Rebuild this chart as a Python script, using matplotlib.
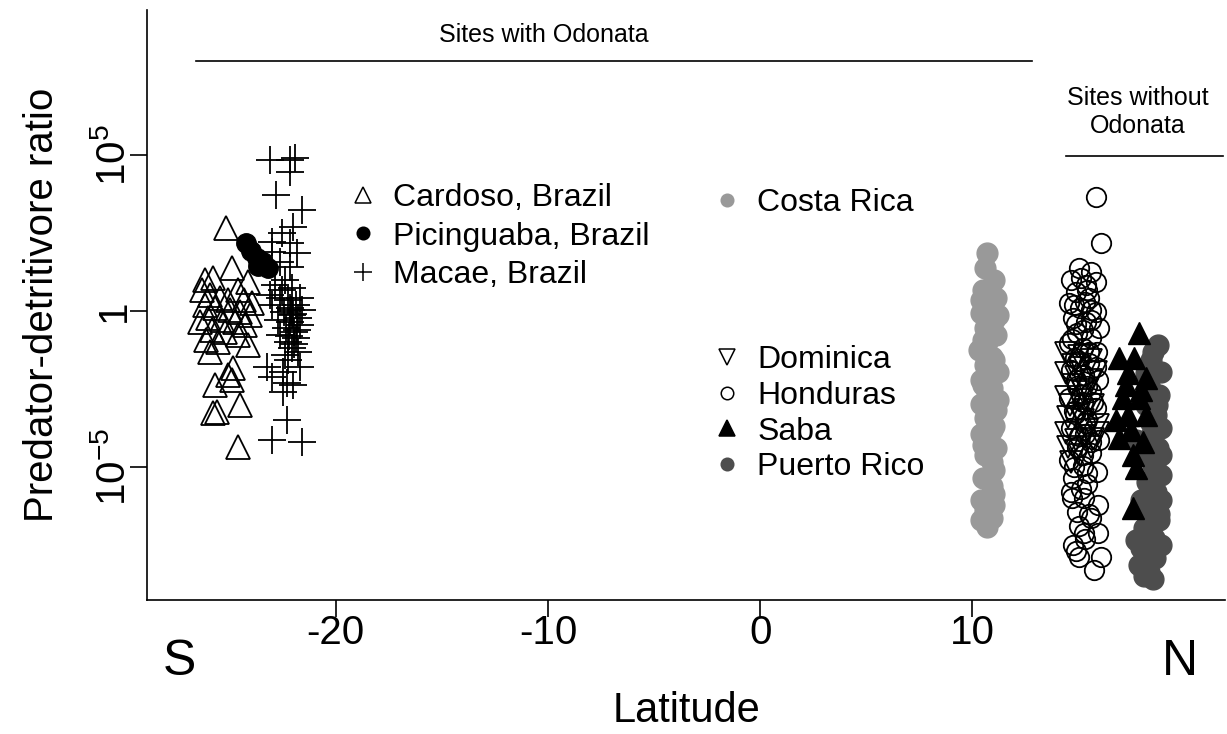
import matplotlib
matplotlib.use("Agg")
import matplotlib.pyplot as plt
from matplotlib.lines import Line2D
from matplotlib.ticker import FixedLocator, NullLocator
import numpy as np

plt.rcParams['font.family'] = ['Liberation Sans', 'DejaVu Sans']
plt.rcParams['mathtext.fontset'] = 'custom'
plt.rcParams['mathtext.rm'] = 'Liberation Sans'
plt.rcParams['mathtext.it'] = 'Liberation Sans:italic'

# latitude and log10(predator/detritivore ratio)
cardoso_lat = [-25.19, -26.18, -25.80, -24.91, -24.15, -24.62, -24.34, -25.94, -25.47, -25.09,
               -26.18, -25.71, -25.00, -24.53, -24.06, -26.04, -25.38, -24.76, -24.29, -26.42,
               -25.85, -25.24, -24.62, -26.13, -25.57, -24.15, -25.94, -24.86, -25.09, -25.71,
               -24.91, -25.61, -24.53, -25.80, -24.62, -26.32, -23.96]
cardoso_log = [2.66, 0.99, 1.06, 1.38, 0.93, 0.67, 0.35, 0.51, 0.42, 0.35,
               0.19, 0.10, 0.03, -0.03, -0.13, -0.22, -0.29, -0.35, -0.45, -0.35,
               -0.61, -0.67, -0.77, -0.93, -0.99, -1.09, -1.31, -1.83, -2.05, -2.37,
               -2.21, -3.24, -3.01, -3.27, -4.36, 0.67, 0.26]

picinguaba_lat = [-24.25, -24.01, -23.73, -23.44, -23.21, -23.68]
picinguaba_log = [2.18, 1.92, 1.70, 1.57, 1.38, 1.44]

macae_lat = [-23.11, -22.17, -22.17, -21.93, -22.83, -21.60, -22.55, -22.03, -22.17, -23.02,
             -21.84, -22.64, -22.17, -23.02, -22.88, -22.41, -22.08, -23.11, -22.64, -22.26,
             -21.89, -21.60, -22.45, -22.08, -21.79, -22.17, -21.70, -22.36, -21.98, -22.64,
             -21.89, -22.26, -22.08, -22.41, -21.79, -22.74, -23.02, -22.17, -22.55, -21.70,
             -22.26, -23.25, -22.50, -21.70, -23.02, -22.31, -22.03, -22.50, -22.31, -23.02,
             -21.60, -22.0, -21.85, -22.2, -21.95, -22.1]
macae_log = [4.84, 4.84, 4.46, 4.90, 3.72, 3.24, 2.50, 2.69, 2.18, 2.21,
             1.86, 1.57, 1.41, 1.89, 0.83, 0.99, 0.74, 0.51, 0.42, 0.35,
             0.19, 0.03, -0.03, -0.13, -0.22, -0.35, -0.45, -0.54, -0.67, -0.77,
             -0.87, -0.99, -1.19, -1.41, -1.31, -0.29, 0.19, 0.10, 0.67, 0.42,
             -1.57, -1.79, -1.96, -1.79, -2.12, -2.31, -2.37, -2.60, -3.49, -4.13,
             -4.20, -0.10, -0.60, -0.80, -1.05, 0.05]

costa_rica_lat = [10.7, 10.6, 11.0, 10.5, 11.1, 10.8, 10.4, 11.0, 10.6, 11.1,
                  10.7, 10.3, 10.9, 10.6, 11.2, 10.4, 10.9, 10.7, 10.4, 11.1,
                  10.6, 11.0, 10.4, 10.8, 11.1, 10.6, 10.9, 11.0, 10.5, 10.9,
                  11.0, 10.4, 10.6, 10.9, 10.7, 10.4, 11.2, 10.5, 11.0, 10.5,
                  11.2, 10.9, 10.5, 11.0, 10.4]
costa_rica_log = [1.86, 1.38, 0.99, 0.67, 0.42, 0.19, -0.06, -0.29, -0.54, -0.77,
                  -0.99, -1.25, -1.47, -1.73, -1.96, -2.21, -2.47, -2.72, -2.98, -3.17,
                  -3.43, -3.69, -3.94, -4.13, -4.39, -4.62, -4.84, -5.10, -5.35, -5.61,
                  -5.87, -6.06, -6.38, -6.63, -6.92, 0.35, -0.13, -0.93, -1.57, -2.37,
                  -2.85, -3.81, -4.29, -6.22, -6.70]

dominica_lat = [14.39, 15.00, 15.57, 14.39, 15.09, 15.80, 14.72, 15.42, 14.39, 15.00,
                15.66, 14.48, 15.19, 15.90, 14.39, 14.86, 15.90, 14.48, 15.57, 15.09,
                14.62, 15.33, 14.72, 15.3, 14.9, 15.6, 15.2, 14.6, 15.4, 15.0,
                15.7, 14.9, 15.3]
dominica_log = [-1.35, -1.44, -1.57, -1.99, -1.83, -1.96, -2.37, -2.53, -2.76, -2.85,
                -3.01, -3.40, -3.49, -3.65, -3.91, -4.13, -3.91, -4.36, -4.36, -4.62,
                -4.84, -3.17, -1.73, -1.40, -2.10, -2.20, -2.60, -3.00, -3.80, -3.30,
                -4.10, -4.50, -4.00]

honduras_lat = [15.80, 16.04, 15.00, 15.57, 14.62, 15.33, 15.80, 14.86, 15.47, 14.53,
                15.09, 15.80, 14.72, 15.33, 15.94, 14.91, 15.57, 14.53, 15.19, 15.85,
                14.81, 15.47, 14.62, 15.24, 15.90, 14.91, 15.57, 14.53, 15.19, 15.80,
                14.81, 15.42, 14.62, 15.28, 15.94, 14.91, 15.57, 14.53, 15.19, 15.85,
                14.76, 15.42, 14.62, 15.24, 15.90, 14.91, 15.57, 15.24, 15.90, 15.00,
                16.04, 15.71, 14.72, 15.38, 15.1, 14.8, 15.6, 15.2, 14.7, 15.5,
                15.0, 15.8, 14.9, 15.4, 15.1, 15.7, 14.8, 15.3, 15.0, 15.6,
                15.2, 14.8, 15.4, 15.1, 14.7, 15.5, 15.0, 15.3, 14.9, 15.6,
                15.3, 14.9]
honduras_log = [3.65, 2.18, 1.38, 1.25, 0.99, 0.83, 0.93, 0.61, 0.42, 0.26,
                0.10, -0.03, -0.22, -0.35, -0.54, -0.71, -0.87, -1.03, -1.19, -1.31,
                -1.51, -1.67, -1.89, -2.05, -2.21, -2.40, -2.60, -2.79, -2.92, -3.11,
                -3.30, -3.49, -3.75, -3.94, -4.13, -4.36, -4.55, -4.78, -4.97, -5.16,
                -5.35, -5.54, -5.80, -5.99, -6.22, -6.44, -6.63, -7.12, -7.12, -7.88,
                -7.88, -8.30, -7.50, 0.67, 1.05, 0.20, 0.05, -0.60, -0.90, -1.30,
                -1.60, -1.80, -2.20, -2.40, -2.70, -2.90, -3.20, -3.60, -4.00, -4.20,
                -4.60, -5.00, -5.20, -5.70, -6.00, -6.50, -6.90, -7.30, -7.70, -0.30,
                0.30, -0.40]

saba_lat = [17.83, 16.89, 17.59, 18.16, 17.31, 17.08, 17.83, 17.31, 18.16, 16.89,
            18.02, 17.55, 17.69, 17.55, 17.22, 17.92, 16.75, 17.45]
saba_log = [-0.71, -1.51, -1.51, -2.15, -1.99, -2.79, -2.79, -3.33, -3.33, -4.07,
            -4.20, -4.62, -5.03, -6.31, -2.37, -2.53, -3.49, -3.81]

puerto_rico_lat = [18.73, 18.40, 18.87, 18.30, 18.77, 18.16, 18.63, 18.87, 18.30, 18.73,
                   18.02, 18.49, 18.87, 18.21, 18.63, 17.92, 18.40, 18.77, 18.07, 18.54,
                   17.92, 18.40, 17.83, 18.30, 17.69, 18.87, 18.87, 17.69, 18.87, 18.5,
                   18.2, 18.7, 18.4, 18.2, 18.6, 18.3, 18.8, 18.2, 18.6, 18.1,
                   18.5]
puerto_rico_log = [-1.09, -1.57, -1.96, -2.37, -2.69, -3.01, -3.33, -3.75, -4.07, -4.39,
                   -4.62, -4.94, -5.26, -5.48, -5.80, -6.06, -6.38, -6.70, -6.96, -7.28,
                   -7.60, -7.85, -8.14, -8.37, -7.34, -7.50, -6.06, -4.13, -4.62, -1.30,
                   -2.00, -3.00, -3.60, -4.30, -5.00, -5.90, -6.50, -7.00, -7.90, -8.50,
                   -8.60]

x_ticks = [-20, -10, 0, 10]
y_ticks = [1e-5, 1, 1e5]
y_tick_labels = ['$10^{-5}$', '1', '$10^{5}$']

def ratio(vals):
    return 10 ** np.array(vals)

fig = plt.figure(figsize=(12.27, 7.34), dpi=100)
ax = fig.add_axes([147 / 1227, 1 - 600 / 734, (1225 - 147) / 1227, 590 / 734])

lw = 1.3
ax.plot(cardoso_lat, ratio(cardoso_log), ls='none', marker='^', ms=17, mfc='none', mec='black', mew=lw)
ax.plot(picinguaba_lat, ratio(picinguaba_log), ls='none', marker='o', ms=14, color='black')
ax.plot(macae_lat, ratio(macae_log), ls='none', marker='+', ms=20, color='black', mew=lw)
ax.plot(costa_rica_lat, ratio(costa_rica_log), ls='none', marker='o', ms=15, color='#999999')
ax.plot(dominica_lat, ratio(dominica_log), ls='none', marker='v', ms=16, mfc='none', mec='black', mew=lw)
ax.plot(honduras_lat, ratio(honduras_log), ls='none', marker='o', ms=14, mfc='none', mec='black', mew=lw)
ax.plot(puerto_rico_lat, ratio(puerto_rico_log), ls='none', marker='o', ms=15, color='#4d4d4d')
ax.plot(saba_lat, ratio(saba_log), ls='none', marker='^', ms=16, color='black')

ax.set_yscale('log')
ax.set_xlim(-28.9, 21.9)
ax.set_ylim(10 ** -9.26, 10 ** 9.65)
ax.xaxis.set_major_locator(FixedLocator(x_ticks))
ax.set_xticklabels([str(t) for t in x_ticks])
ax.yaxis.set_major_locator(FixedLocator(y_ticks))
ax.yaxis.set_minor_locator(NullLocator())
ax.set_yticklabels(y_tick_labels)
for lab in ax.get_yticklabels():
    lab.set_rotation(90)
    lab.set_va('center')
ax.tick_params(length=12, width=1.2, labelsize=29, pad=-2)
ax.spines['top'].set_visible(False)
ax.spines['right'].set_visible(False)
ax.spines['left'].set_linewidth(1.2)
ax.spines['bottom'].set_linewidth(1.2)

ax.set_xlabel('Latitude', fontsize=30, labelpad=28)
ax.set_ylabel('Predator-detritivore ratio', fontsize=29, labelpad=24)

# S / N under the axis ends
ax.text(-27.36, -0.105, 'S', transform=ax.get_xaxis_transform(), fontsize=36, ha='center', va='center')
ax.text(19.8, -0.105, 'N', transform=ax.get_xaxis_transform(), fontsize=36, ha='center', va='center')

# site group annotations
ax.plot([-26.6, 12.8], [1e8, 1e8], color='black', lw=1.2)
ax.text(-10.2, 10 ** 8.85, 'Sites with Odonata', fontsize=18, ha='center', va='center')
ax.plot([14.4, 21.8], [10 ** 4.97, 10 ** 4.97], color='black', lw=1.2, clip_on=False)
ax.text(17.8, 10 ** 6.38, 'Sites without\nOdonata', fontsize=18, ha='center', va='center', linespacing=1.25)

# legends
def leg_handle(marker, ms, fill, edge='black'):
    return Line2D([], [], ls='none', marker=marker, ms=ms, mfc=fill, mec=edge, mew=1.1)

h1 = [leg_handle('^', 11, 'none'), leg_handle('o', 9, 'black'), leg_handle('+', 13, 'none')]
h2 = [leg_handle('o', 9, '#999999', '#999999')]
h3 = [leg_handle('v', 11, 'none'), leg_handle('o', 9, 'none'), leg_handle('^', 11, 'black'),
      leg_handle('o', 9, '#4d4d4d', '#4d4d4d')]

common = dict(loc='upper left', frameon=False, fontsize=23, handlelength=0.8, handletextpad=0.55,
              borderpad=0, borderaxespad=0, bbox_transform=fig.transFigure)
leg1 = ax.legend(h1, ['Cardoso, Brazil', 'Picinguaba, Brazil', 'Macae, Brazil'],
                 bbox_to_anchor=(350 / 1227, 1 - 183 / 734), labelspacing=0.27, **common)
ax.add_artist(leg1)
leg2 = ax.legend(h2, ['Costa Rica'], bbox_to_anchor=(714 / 1227, 1 - 188 / 734), **common)
ax.add_artist(leg2)
ax.legend(h3, ['Dominica', 'Honduras', 'Saba', 'Puerto Rico'],
          bbox_to_anchor=(714 / 1227, 1 - 345 / 734), labelspacing=0.18, **common)

fig.savefig('out.png', dpi=100)
